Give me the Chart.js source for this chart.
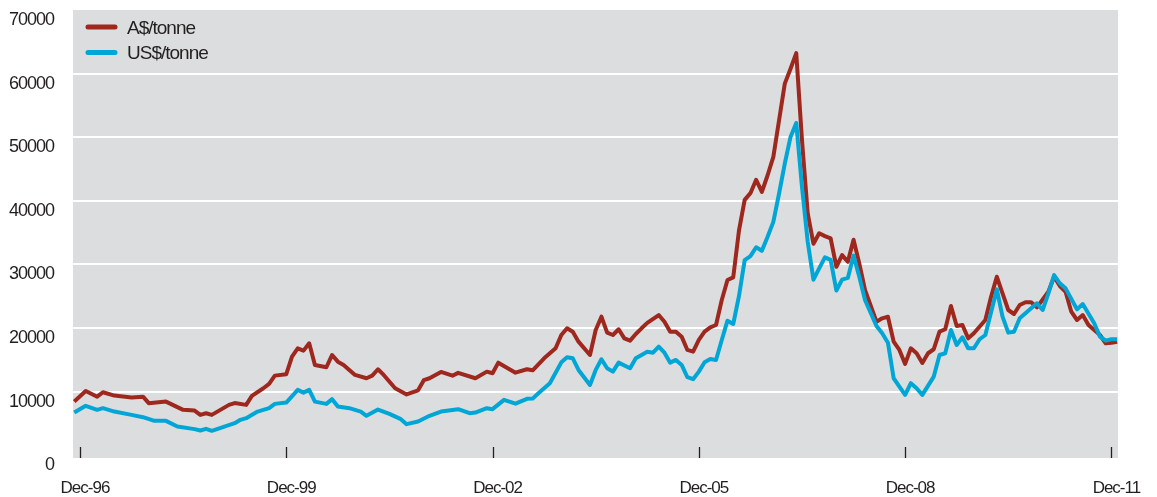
<!DOCTYPE html>
<html>
<head>
<meta charset="utf-8">
<script src="https://cdn.jsdelivr.net/npm/chart.js@4.4.1/dist/chart.umd.min.js"></script>
<style>
  html, body { margin: 0; padding: 0; background: #fff; }
  #wrap { width: 1157px; height: 497px; position: relative; }
</style>
</head>
<body>
<div id="wrap"><canvas id="chart"></canvas></div>
<script>
// meses contados desde Dec-96 (0 = Dec-96)
const tickMonths = [0, 36, 72, 108, 144, 180];
const tickLabels = ["Dec-96", "Dec-99", "Dec-02", "Dec-05", "Dec-08", "Dec-11"];
const yTicks = [0, 10000, 20000, 30000, 40000, 50000, 60000, 70000];

// A$/tonne
const audMonths = [-1, 1, 3, 4, 6, 9, 11, 12, 15, 18, 20, 21, 22, 23, 26, 27, 29, 30, 32, 33, 34, 36, 37, 38, 39, 40, 41, 43, 44, 45, 46, 48, 50, 51, 52, 53, 55, 57, 59, 60, 61, 63, 65, 66, 69, 71, 72, 73, 76, 78, 79, 81, 83, 84, 85, 86, 87, 89, 90, 91, 92, 93, 94, 95, 96, 97, 98, 99, 101, 102, 103, 104, 105, 106, 107, 108, 109, 110, 111, 112, 113, 114, 115, 116, 117, 118, 119, 120, 121, 122, 123, 124, 125, 126, 127, 128, 129, 130, 131, 132, 133, 134, 135, 136, 137, 139, 140, 141, 142, 143, 144, 145, 146, 147, 148, 149, 150, 151, 152, 153, 154, 155, 156, 158, 159, 160, 161, 162, 163, 164, 165, 166, 167, 169, 170, 171, 172, 173, 174, 175, 176, 178, 179, 180, 181];
const audValues = [8430, 10100, 9200, 9900, 9370, 9060, 9200, 8180, 8430, 7130, 7020, 6340, 6600, 6340, 7910, 8200, 7910, 9330, 10530, 11210, 12510, 12730, 15500, 16810, 16440, 17600, 14190, 13830, 15760, 14710, 14190, 12620, 12100, 12510, 13510, 12620, 10530, 9560, 10200, 11800, 12100, 13100, 12500, 12950, 12100, 13140, 12890, 14550, 12980, 13510, 13350, 15240, 16810, 18900, 19950, 19420, 17850, 15760, 19690, 21780, 19270, 18900, 19800, 18380, 18010, 19060, 19950, 20800, 22040, 20990, 19420, 19420, 18640, 16550, 16280, 18120, 19420, 20110, 20470, 24400, 27540, 27960, 35300, 40150, 41200, 43300, 41400, 44020, 46900, 52660, 58420, 60770, 63220, 49520, 38010, 33250, 34900, 34450, 34080, 29630, 31460, 30410, 33880, 30160, 26000, 20990, 21520, 21780, 17850, 16550, 14350, 16810, 16030, 14500, 16030, 16660, 19420, 19800, 23460, 20320, 20470, 18380, 19170, 21260, 24920, 28060, 25450, 22830, 22200, 23610, 24040, 24040, 23250, 25700, 28060, 26600, 25700, 22560, 21260, 22040, 20470, 18900, 17600, 17690, 17850];

// US$/tonne
const usdMonths = [-1, 1, 3, 4, 6, 9, 11, 13, 15, 17, 20, 21, 22, 23, 27, 28, 29, 31, 33, 34, 36, 38, 39, 40, 41, 43, 44, 45, 47, 49, 50, 52, 54, 56, 57, 59, 61, 63, 66, 68, 69, 71, 72, 74, 76, 78, 79, 80, 82, 84, 85, 86, 87, 89, 90, 91, 92, 93, 94, 96, 97, 99, 100, 101, 102, 103, 104, 105, 106, 107, 108, 109, 110, 111, 112, 113, 114, 115, 116, 117, 118, 119, 120, 121, 122, 123, 124, 125, 126, 127, 128, 129, 130, 131, 132, 133, 134, 135, 136, 137, 139, 140, 141, 142, 143, 144, 145, 146, 147, 149, 150, 151, 152, 153, 154, 155, 156, 157, 158, 160, 161, 162, 163, 164, 166, 167, 168, 169, 170, 171, 172, 174, 175, 177, 178, 179, 180, 181];
const usdValues = [6700, 7760, 7130, 7390, 6860, 6340, 5980, 5400, 5400, 4510, 4100, 3880, 4140, 3830, 5040, 5560, 5820, 6860, 7390, 8070, 8270, 10270, 9840, 10270, 8430, 8070, 8810, 7650, 7390, 6860, 6190, 7170, 6500, 5670, 4880, 5290, 6190, 6860, 7240, 6600, 6700, 7390, 7240, 8700, 8100, 8860, 8900, 9750, 11320, 14600, 15400, 15240, 13410, 11050, 13410, 15090, 13670, 13140, 14550, 13670, 15240, 16280, 16120, 17060, 16120, 14550, 14980, 14190, 12260, 11950, 13140, 14610, 15130, 14980, 18120, 21150, 20630, 25000, 30680, 31300, 32700, 32140, 34340, 36690, 41150, 45860, 50040, 52240, 42190, 33550, 27600, 29370, 31100, 30700, 25900, 27600, 27880, 31380, 28060, 24400, 20320, 19170, 17690, 12100, 10790, 9480, 11320, 10530, 9480, 12360, 15760, 16030, 19690, 17330, 18540, 16810, 16810, 18230, 18900, 26070, 21780, 19270, 19420, 21520, 23090, 23880, 22830, 25450, 28320, 27020, 26230, 22930, 23770, 20740, 18640, 18010, 18230, 18230];

const FONT = "'Liberation Sans', Arial, sans-serif";
const TEXT = "#231f20";

// fondo gris del area del grafico, marcas del eje x y leyenda
const bgPlugin = {
  id: "bg",
  beforeDraw(chart) {
    const a = chart.chartArea;
    const ctx = chart.ctx;
    // letra mas estrecha, parecida a la condensada del original
    ctx.letterSpacing = "-1px";
    ctx.save();
    ctx.fillStyle = "#dcdddf";
    ctx.fillRect(a.left, a.top, a.right - a.left, a.bottom - a.top);
    ctx.restore();
  },
  afterDraw(chart) {
    const ctx = chart.ctx;
    const a = chart.chartArea;
    const xs = chart.scales.x;
    ctx.save();
    ctx.strokeStyle = TEXT;
    ctx.lineWidth = 1.3;
    tickMonths.forEach((m) => {
      const px = Math.round(xs.getPixelForValue(m)) + 0.5;
      ctx.beginPath();
      ctx.moveTo(px, a.bottom - 11);
      ctx.lineTo(px, a.bottom);
      ctx.stroke();
    });
    ctx.font = "19px " + FONT;
    ctx.textBaseline = "middle";
    ctx.textAlign = "left";
    ctx.lineCap = "round";
    ctx.lineWidth = 5;
    chart.data.datasets.forEach((ds, i) => {
      const y = 27 + i * 25.5;
      ctx.strokeStyle = ds.borderColor;
      ctx.beginPath();
      ctx.moveTo(88, y);
      ctx.lineTo(115, y);
      ctx.stroke();
      ctx.fillStyle = TEXT;
      ctx.fillText(ds.label, 127, y + 1.5);
    });
    ctx.restore();
  },
};

const ctx = document.getElementById("chart").getContext("2d");

new Chart(ctx, {
  type: "line",
  data: {
    datasets: [
      {
        label: "A$/tonne",
        data: audMonths.map((m, i) => ({ x: m, y: audValues[i] })),
        borderColor: "#9e281e",
        borderWidth: 4,
        pointRadius: 0,
        tension: 0,
        borderJoinStyle: "round",
        order: 1,
      },
      {
        label: "US$/tonne",
        data: usdMonths.map((m, i) => ({ x: m, y: usdValues[i] })),
        borderColor: "#00a6d6",
        borderWidth: 4,
        pointRadius: 0,
        tension: 0,
        borderJoinStyle: "round",
        order: 0,
      },
    ],
  },
  options: {
    responsive: true,
    maintainAspectRatio: false,
    animation: false,
    layout: { padding: { top: 10, right: 39, bottom: 0, left: 0 } },
    plugins: {
      legend: { display: false },
      tooltip: { enabled: false },
    },
    scales: {
      x: {
        type: "linear",
        min: -1.22,
        max: 181.15,
        afterBuildTicks: (axis) => {
          axis.ticks = tickMonths.map((v) => ({ value: v }));
        },
        afterFit: (axis) => {
          axis.height = 39;
          axis.paddingLeft = 0;
          axis.paddingRight = 0;
        },
        grid: { display: false, drawTicks: false },
        border: { display: false },
        ticks: {
          autoSkip: false,
          maxRotation: 0,
          padding: 20,
          labelOffset: 5,
          color: TEXT,
          font: { family: FONT, size: 17 },
          callback: (v) => tickLabels[tickMonths.indexOf(v)],
        },
      },
      y: {
        min: -440,
        max: 70000,
        afterBuildTicks: (axis) => {
          axis.ticks = yTicks.map((v) => ({ value: v }));
        },
        afterFit: (axis) => {
          axis.width = 73;
          axis.paddingTop = 0;
          axis.paddingBottom = 0;
        },
        grid: {
          drawTicks: false,
          lineWidth: 2,
          color: (c) => (c.tick && c.tick.value > 0 && c.tick.value < 70000 ? "#ffffff" : "rgba(0,0,0,0)"),
        },
        border: { display: false },
        ticks: {
          padding: 19,
          labelOffset: 10,
          color: TEXT,
          font: { family: FONT, size: 18 },
          callback: (v) => String(v),
        },
      },
    },
  },
  plugins: [bgPlugin],
});
</script>
</body>
</html>
